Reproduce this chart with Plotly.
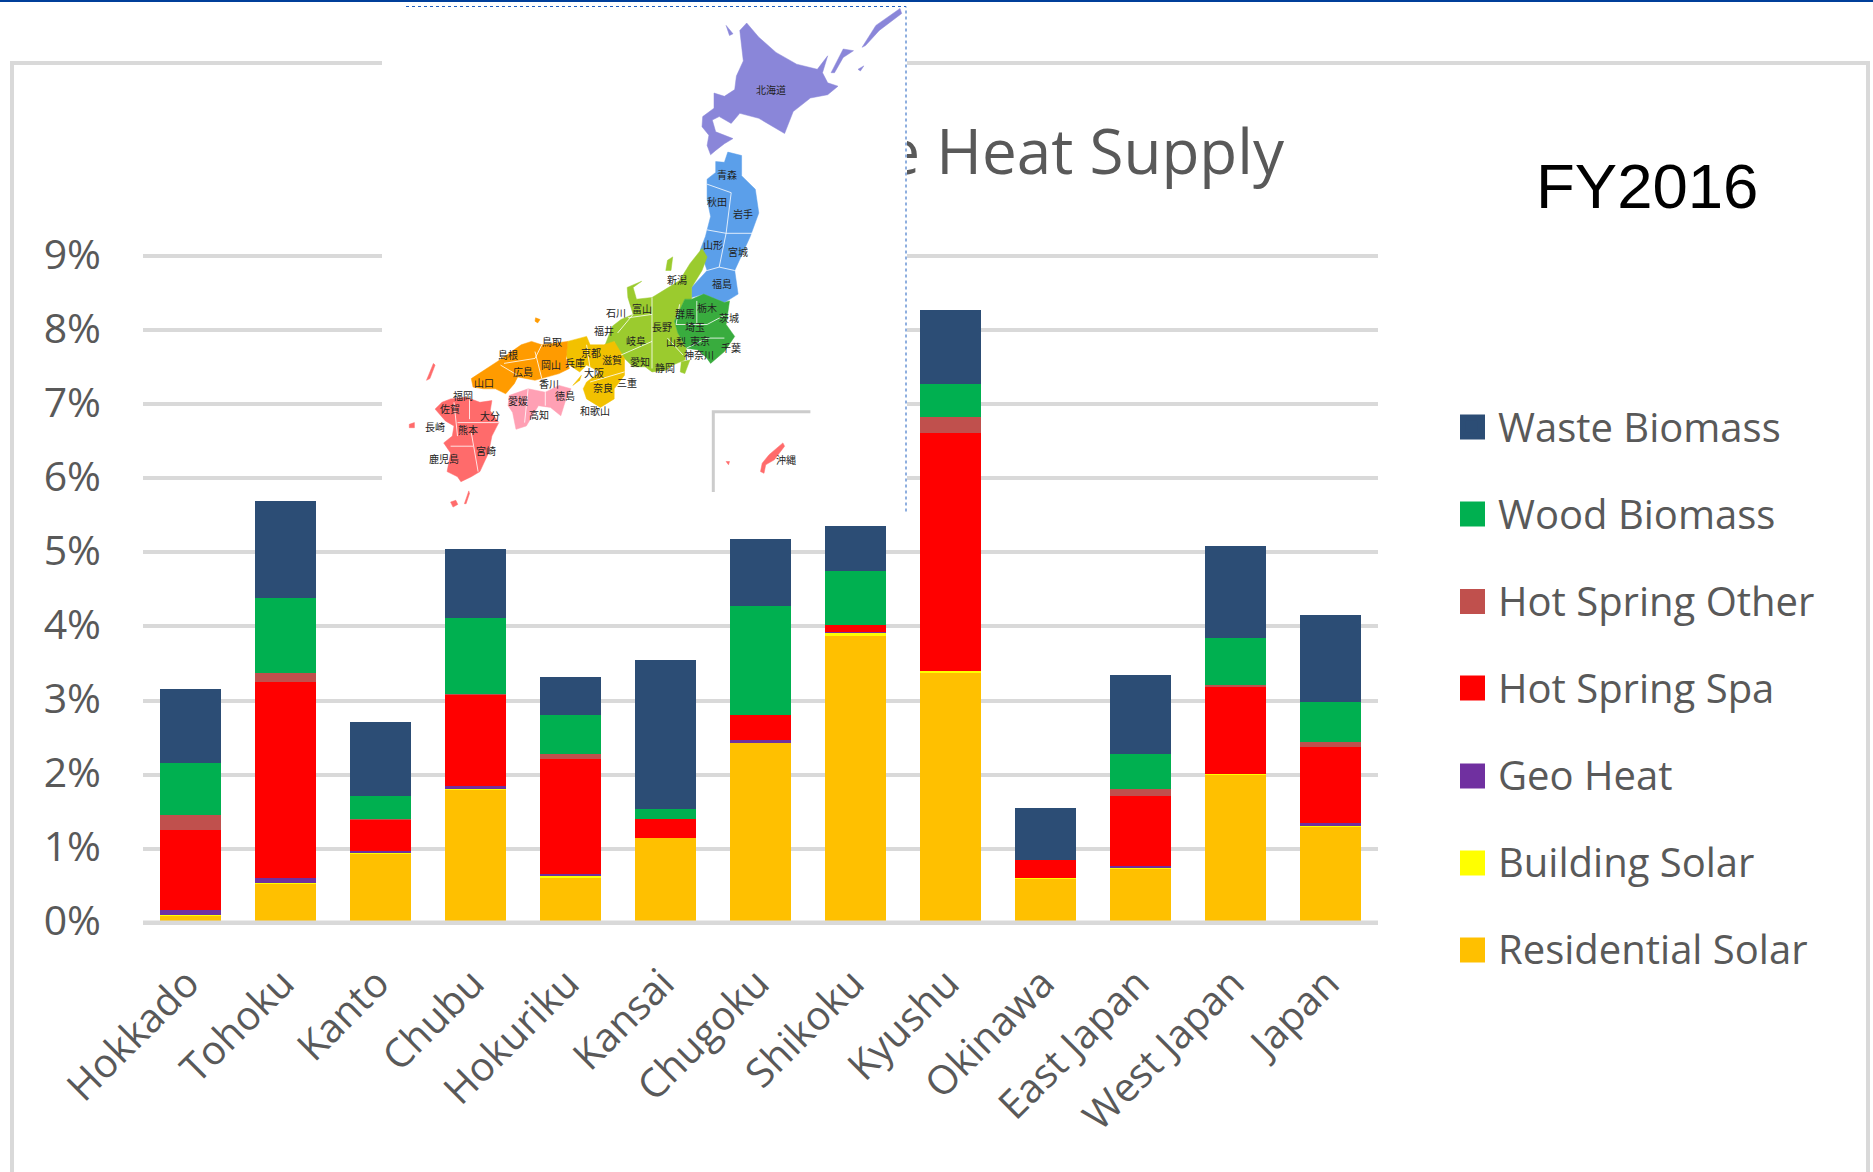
import plotly.graph_objects as go

W, H = 1873, 1172

categories = ["Hokkado", "Tohoku", "Kanto", "Chubu", "Hokuriku", "Kansai", "Chugoku",
              "Shikoku", "Kyushu", "Okinawa", "East Japan", "West Japan", "Japan"]
residential_solar = [0.10, 0.53, 0.93, 1.80, 0.617, 1.139, 2.43, 3.877, 3.377, 0.60, 0.73, 2.00, 1.30]
building_solar    = [0.01, 0.01, 0.005, 0.005, 0.023, 0.0, 0.01, 0.04, 0.02, 0.003, 0.005, 0.01, 0.006]
geo_heat          = [0.06, 0.065, 0.035, 0.04, 0.017, 0.0, 0.022, 0.003, 0.0, 0.0, 0.035, 0.003, 0.036]
hot_spring_spa    = [1.08, 2.645, 0.42, 1.234, 1.558, 0.266, 0.338, 0.096, 3.21, 0.239, 0.936, 1.17, 1.035]
hot_spring_other  = [0.20, 0.127, 0.015, 0.005, 0.063, 0.0, 0.0, 0.0, 0.224, 0.0, 0.094, 0.027, 0.063]
wood_biomass      = [0.70, 1.008, 0.306, 1.035, 0.532, 0.135, 1.47, 0.739, 0.437, 0.0, 0.478, 0.64, 0.54]
waste_biomass     = [1.00, 1.305, 1.004, 0.93, 0.504, 2.008, 0.907, 0.598, 1.00, 0.702, 1.072, 1.238, 1.17]

series_names = ["Residential Solar", "Building Solar", "Geo Heat", "Hot Spring Spa",
                "Hot Spring Other", "Wood Biomass", "Waste Biomass"]
series_values = [residential_solar, building_solar, geo_heat, hot_spring_spa,
                 hot_spring_other, wood_biomass, waste_biomass]
series_colors = ["#FFC000", "#FFFF00", "#7030A0", "#FF0000", "#C0504D", "#00B050", "#2C4D75"]

title_text = "e Heat Supply"
year_text = "FY2016"

# Illustration (inset map of Japan), outlines sketched in reference-crop units
map_regions = [
    ("#8A86D9", [(1065,68),(1100,110),(1150,155),(1210,190),(1270,205),(1300,165),(1285,215),(1300,245),(1330,255),(1300,280),(1250,290),(1200,330),(1175,395),(1100,350),(1045,335),(1020,365),(985,345),(965,355),(975,390),(1025,410),(1000,425),(975,445),(960,458),(950,430),(955,400),(935,375),(937,345),(970,320),(970,275),(1000,285),(1030,265),(1035,225),(1055,180),(1045,90)]),
    ("#8A86D9", [(1310,215),(1345,145),(1375,150),(1345,170),(1320,215)]),
    ("#8A86D9", [(1400,140),(1440,75),(1510,25),(1515,40),(1450,90),(1410,135)]),
    ("#8A86D9", [(1388,205),(1405,195),(1395,210)]),
    ("#8A86D9", [(1005,75),(1025,100),(1015,105)]),
    ("#5B9FEA", [(1010,450),(1050,460),(1050,520),(1090,560),(1100,630),(1075,700),(1030,800),(1040,870),(1000,895),(940,870),(905,880),(905,850),(950,800),(930,740),(945,700),(960,640),(950,590),(950,530),(975,510),(975,478),(1000,480)]),
    ("#9BCB2E", [(935,735),(950,760),(935,800),(905,850),(905,885),(885,885),(855,950),(865,985),(890,1030),(885,1065),(850,1080),(830,1095),(790,1100),(770,1085),(735,1085),(710,1060),(690,1040),(680,1010),(650,1030),(675,965),(700,945),(735,930),(720,880),(718,850),(760,832),(735,850),(745,885),(790,880),(870,830),(900,780)]),
    ("#9BCB2E", [(875,1070),(900,1065),(885,1105),(872,1100)]),
    ("#9BCB2E", [(835,770),(850,760),(845,800),(830,800)]),
    ("#39AC3E", [(885,885),(905,885),(940,870),(1000,895),(1015,890),(1005,960),(1030,995),(1000,1040),(960,1075),(950,1060),(925,1035),(890,1030),(865,985),(855,950)]),
    ("#F2C100", [(545,1010),(600,995),(610,1020),(650,1020),(680,1010),(710,1060),(710,1110),(680,1150),(680,1180),(640,1205),(600,1180),(590,1150),(600,1130),(640,1100),(600,1080),(580,1100),(550,1080),(540,1050)]),
    ("#F2C100", [(560,1140),(585,1110),(580,1125)]),
    ("#FF9B00", [(265,1120),(340,1070),(410,1020),(440,1010),(470,1020),(545,1010),(540,1060),(550,1090),(520,1105),(450,1125),(400,1115),(390,1135),(365,1165),(335,1150),(300,1150),(270,1145)]),
    ("#FF9B00", [(452,940),(465,945),(458,955),(450,950)]),
    ("#FFA0B4", [(375,1170),(430,1150),(480,1160),(520,1140),(555,1150),(540,1180),(525,1230),(495,1205),(460,1200),(425,1260),(395,1270),(385,1220),(372,1200)]),
    ("#FF6B6B", [(205,1180),(250,1175),(290,1190),(325,1185),(320,1215),(345,1250),(325,1290),(315,1340),(290,1395),(265,1410),(235,1425),(225,1410),(195,1395),(205,1340),(185,1310),(210,1290),(215,1260),(190,1245),(160,1210),(180,1190)]),
    ("#FF6B6B", [(135,1125),(155,1075),(160,1080),(145,1120)]),
    ("#FF6B6B", [(85,1255),(100,1250),(100,1265),(85,1265)]),
    ("#FF6B6B", [(205,1485),(220,1480),(226,1492),(212,1500)]),
    ("#FF6B6B", [(245,1490),(258,1452),(260,1460),(250,1490)]),
    ("#FF6B6B", [(1105,1395),(1110,1370),(1130,1345),(1170,1310),(1175,1320),(1145,1360),(1120,1375),(1115,1400)]),
    ("#FF6B6B", [(1005,1365),(1015,1365),(1012,1375)]),
]
map_borders = [
    [(950,545),(1020,570),(1005,690),(950,680)], [(1090,690),(1005,690),(985,790),(1030,800)],
    [(950,800),(985,790)], [(870,900),(860,960),(950,960),(1005,930)], [(920,890),(920,960)],
    [(890,1030),(950,1000),(1000,1000)], [(790,880),(790,1090)], [(720,940),(790,930)],
    [(700,1050),(790,1010)], [(835,1000),(880,1050)], [(735,930),(690,985)], [(710,1100),(610,1130)],
    [(600,1020),(610,1090)], [(450,1040),(470,1120)], [(350,1080),(400,1110)], [(470,1020),(450,1060),(360,1075)],
    [(480,1160),(480,1200)], [(430,1150),(420,1250)], [(260,1180),(260,1240)], [(225,1250),(345,1250)],
    [(265,1280),(285,1395)], [(205,1320),(270,1320)], [(215,1190),(225,1290)],
]
map_inset_frame = [(968,1455),(968,1218),(1250,1218)]
prefecture_names = ["北海道","青森","秋田","岩手","山形","宮城","福島","新潟","石川","富山","福井","長野","岐阜","山梨","群馬","栃木","茨城","埼玉","東京","千葉","神奈川","静岡","愛知","三重","滋賀","京都","大阪","奈良","和歌山","兵庫","鳥取","島根","岡山","広島","山口","香川","徳島","愛媛","高知","福岡","佐賀","大分","長崎","熊本","宮崎","鹿児島","沖縄"]
prefecture_xs = [1135,1007,978,1053,966,1040,992,862,686,760,651,820,742,860,885,949,1013,916,930,1018,925,829,754,718,673,614,621,648,624,565,500,372,496,414,302,490,537,400,462,240,203,318,159,256,307,186,1178]
prefecture_ys = [265,517,597,632,722,745,840,828,923,912,978,967,1007,1011,926,910,939,967,1007,1028,1049,1087,1068,1132,1063,1044,1102,1145,1215,1071,1010,1050,1078,1100,1130,1134,1169,1184,1226,1169,1207,1228,1263,1270,1332,1356,1359]

GREY = "#D9D9D9"
TEXT = "#595959"
FONT = "Open Sans, Noto Sans, sans-serif"

def mp(p):
    return (380 + p[0] / 2.904, p[1] / 2.958)

def path(points, close):
    s = "M" + " L".join(f"{x:.1f},{y:.1f}" for x, y in points)
    return s + (" Z" if close else "")

shapes = []
def add(**k):
    shapes.append(dict(xref="x2", yref="y2", layer="above", **k))

# page rule and chart frame
add(type="rect", x0=0, x1=W, y0=0, y1=2, line_width=0, fillcolor="#003F9A")
add(type="path", path=path([(12, H), (12, 63), (1868, 63), (1868, H)], False),
    line=dict(color=GREY, width=4))
# category axis baseline, over the feet of the bars
add(type="rect", x0=143, x1=1378, y0=920.5, y1=925, line_width=0, fillcolor=GREY)
# white picture that sits on top of the chart
add(type="rect", x0=382, x1=907, y0=5, y1=514, line_width=0, fillcolor="white")
add(type="path", path=path([(406, 6.5), (906, 6.5), (906, 514)], False),
    line=dict(color="#1F5FBF", width=1, dash="dot"))
add(type="path", path=path([mp(p) for p in map_inset_frame], False),
    line=dict(color="#CCCCCC", width=3))
for color, pts in map_regions:
    add(type="path", path=path([mp(p) for p in pts], True), fillcolor=color, line=dict(color=color, width=0.5))
for pts in map_borders:
    add(type="path", path=path([mp(p) for p in pts], False), line=dict(color="rgba(255,255,255,0.8)", width=1))

# enlarged legend swatches
legend_ys = [950, 863, 776, 688, 601.5, 514, 427]
for c, y in zip(series_colors, legend_ys):
    add(type="rect", x0=1460, x1=1485, y0=y - 12.5, y1=y + 12.5, line_width=0, fillcolor=c)

fig = go.Figure()
for i, (name, vals, col) in enumerate(zip(series_names, series_values, series_colors)):
    fig.add_trace(go.Bar(name=name, x=categories, y=vals, marker=dict(color=col, line_width=0),
                         legendgroup=name, legendrank=100 - i))

fig.add_trace(go.Scatter(x=[1284], y=[158], xaxis="x2", yaxis="y2", mode="text", text=[title_text],
                         textposition="middle left", textfont=dict(family=FONT, size=62, color=TEXT),
                         showlegend=False, hoverinfo="skip", cliponaxis=False))

annotations = [dict(xref="x2", yref="y2", x=1534, y=186, xanchor="left", yanchor="middle", showarrow=False,
                    text=year_text, font=dict(family="Liberation Sans, Arial", size=63.5, color="black"))]
for n, zx, zy in zip(prefecture_names, prefecture_xs, prefecture_ys):
    px, py = mp((zx, zy))
    annotations.append(dict(xref="x2", yref="y2", x=px, y=py, showarrow=False, text=n,
                            font=dict(family="Noto Sans CJK JP", size=10, color="#222222")))

fig.update_layout(
    width=W, height=H, margin=dict(l=0, r=0, t=0, b=0, pad=0, autoexpand=False),
    paper_bgcolor="white", plot_bgcolor="rgba(0,0,0,0)",
    barmode="stack", bargap=0.35,
    showlegend=True,
    legend=dict(x=1445 / W, y=1 - 394 / H, xanchor="left", yanchor="top",
                traceorder="grouped", tracegroupgap=32, itemwidth=43,
                bgcolor="rgba(0,0,0,0)", font=dict(family=FONT, size=40, color=TEXT),
                itemclick=False, itemdoubleclick=False),
    xaxis=dict(domain=[143 / W, 1378 / W], showline=False, showgrid=False,
               ticks="", tickangle=-45, tickfont=dict(family=FONT, size=40, color=TEXT), anchor="y",
               ticklabelstandoff=28, ticklabelshift=-3, automargin=False),
    yaxis=dict(domain=[1 - 922.7 / H, 1 - 254.0 / H], range=[0, 9.03], tick0=0, dtick=1, ticksuffix="%",
               showgrid=True, gridcolor=GREY, gridwidth=4, zeroline=False, showline=False, ticks="",
               tickfont=dict(family=FONT, size=41, color=TEXT), anchor="x", ticklabelstandoff=41,
               ticklabelshift=-2, automargin=False),
    xaxis2=dict(domain=[0, 1], range=[0, W], visible=False, anchor="y2"),
    yaxis2=dict(domain=[0, 1], range=[H, 0], visible=False, anchor="x2"),
    shapes=shapes, annotations=annotations,
)

fig.write_html("out.html", config={"displayModeBar": False}, post_script="document.body.style.margin='0';")
